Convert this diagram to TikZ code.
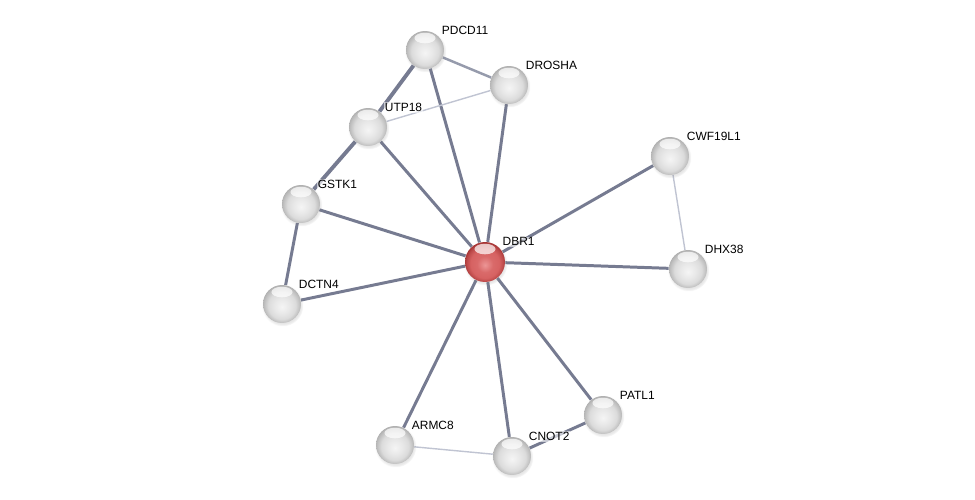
\documentclass[tikz,border=0pt]{standalone}
\usepackage{fontspec}
\setmainfont{Liberation Sans}
\usetikzlibrary{shadows,backgrounds}
\definecolor{edgedark}{RGB}{118,123,145}
\definecolor{edgemid}{RGB}{150,155,172}
\definecolor{edgelight}{RGB}{192,196,210}
\definecolor{redlo}{RGB}{236,150,150}
\definecolor{redmid}{RGB}{214,98,98}
\definecolor{redrim}{RGB}{150,38,38}
\pgfdeclareradialshading{greyball}{\pgfpoint{0bp}{-4bp}}{%
  color(0bp)=(gray!8); color(10bp)=(gray!18); color(18bp)=(gray!28);
  color(23bp)=(gray!48); color(28bp)=(gray!70); color(35bp)=(gray!70)}
\pgfdeclareradialshading{redball}{\pgfpoint{0bp}{-4bp}}{%
  color(0bp)=(redlo); color(10bp)=(redmid!85!redlo); color(18bp)=(redmid);
  color(23bp)=(redmid!60!redrim); color(28bp)=(redrim); color(35bp)=(redrim)}

\begin{document}
\begin{tikzpicture}[x=0.02cm,y=-0.02cm,
          prot/.style={circle,inner sep=0pt,minimum size=0.76cm,
            shading=greyball,
            circular drop shadow={shadow xshift=0.3pt,shadow yshift=-0.8pt,opacity=0.2},
            path picture={\fill[white,fill opacity=0.7]
              ([yshift=-4pt]path picture bounding box.north) ellipse (6pt and 3pt);},
            label={[lbl]42:#1}},
          query/.style={prot=#1,shading=redball,minimum size=0.8cm},
          lbl/.style={font=\fontsize{6.8pt}{8pt}\selectfont,inner sep=0.5pt,
            label distance=1pt,fill=white,fill opacity=0.6,text opacity=1},
          strong/.style={draw=edgedark,line width=2.2pt},
          link/.style={draw=edgedark,line width=1.7pt},
          mid/.style={draw=edgemid,line width=1.4pt},
          weak/.style={draw=edgelight,line width=0.8pt}]
        \useasboundingbox (0,0) rectangle (975,500);
        % proteins
        \node[prot=PDCD11]  (pdcd11) at (425,50)  {};
        \node[prot=DROSHA]  (drosha) at (509,85)  {};
        \node[prot=UTP18]   (utp18)  at (368,127) {};
        \node[prot=CWF19L1] (cwf)    at (670,156) {};
        \node[prot=GSTK1]   (gstk1)  at (301,204) {};
        \node[query=DBR1]   (dbr1)   at (485,262) {};
        \node[prot=DHX38]   (dhx38)  at (688,269) {};
        \node[prot=DCTN4]   (dctn4)  at (282,304) {};
        \node[prot=PATL1]   (patl1)  at (603,415) {};
        \node[prot=ARMC8]   (armc8)  at (395,445) {};
        \node[prot=CNOT2]   (cnot2)  at (512,456) {};
        % links
        \begin{scope}[on background layer]
        \draw[mid] (pdcd11)--(drosha);
        \draw[strong] (pdcd11)--(utp18);
        \draw[link] (pdcd11)--(dbr1);
        \draw[weak] (drosha)--(utp18);
        \draw[link] (drosha)--(dbr1);
        \draw[strong] (utp18)--(gstk1);
        \draw[link] (utp18)--(dbr1);
        \draw[link] (gstk1)--(dbr1);
        \draw[link] (gstk1)--(dctn4);
        \draw[link] (dctn4)--(dbr1);
        \draw[link] (cwf)--(dbr1);
        \draw[weak] (cwf)--(dhx38);
        \draw[link] (dhx38)--(dbr1);
        \draw[link] (dbr1)--(patl1);
        \draw[link] (dbr1)--(cnot2);
        \draw[link] (dbr1)--(armc8);
        \draw[weak] (armc8)--(cnot2);
        \draw[link] (cnot2)--(patl1);
        \end{scope}
      \end{tikzpicture}
\end{document}
